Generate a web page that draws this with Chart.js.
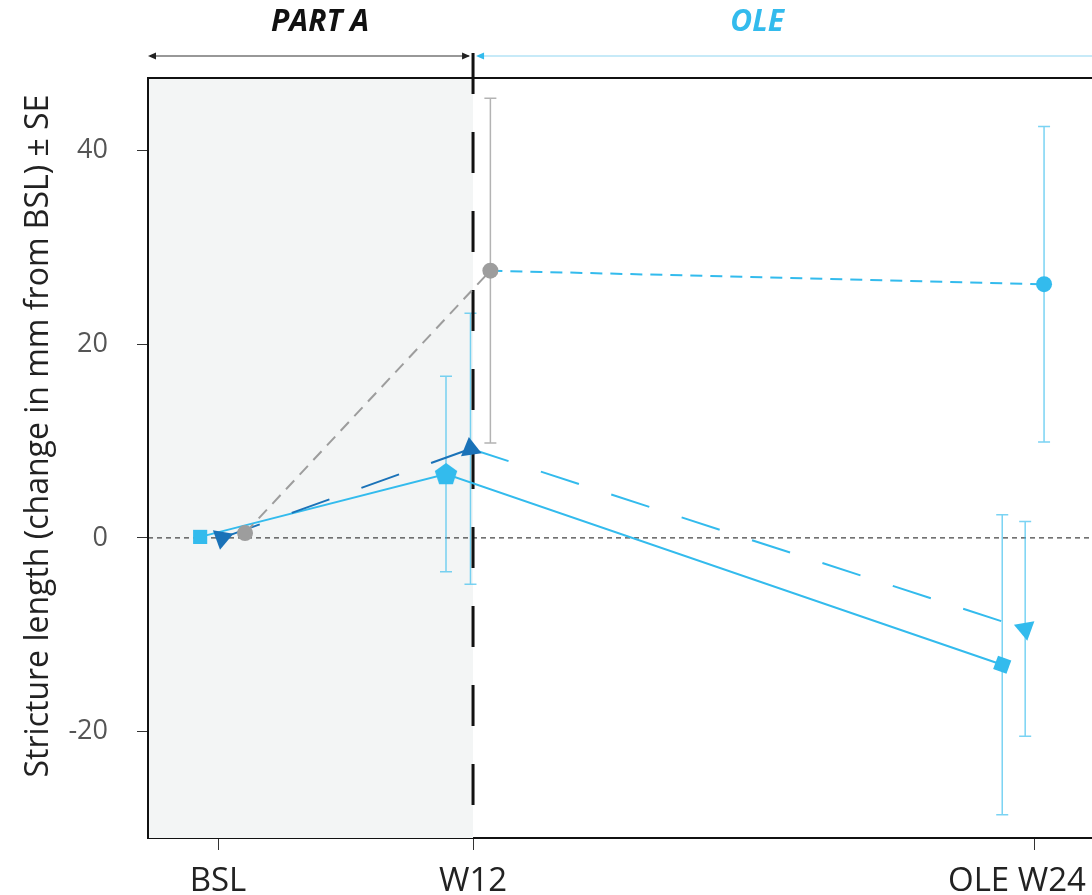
<!DOCTYPE html>
<html>
<head>
<meta charset="utf-8">
<script src="https://cdn.jsdelivr.net/npm/chart.js@4/dist/chart.umd.min.js"></script>
<style>
    html, body { margin: 0; padding: 0; background: #fff; overflow: hidden; }
    #wrap { width: 1092px; height: 895px; position: relative; }
</style>
</head>
<body>
<div id="wrap"><canvas id="chart"></canvas></div>
<script>
// Visits on the x axis
const visitLabels = ['BSL', 'W12', 'OLE W24'];
const visitPos = [0, 1, 3.2];
const yTicks = [-20, 0, 20, 40];
const yTitle = 'Stricture length (change in mm from BSL) ± SE';

// Circle series (Part A grey, then OLE blue)
const circleX = [0.106, 1.068, 3.239];
const circleY = [0.5, 27.6, 26.2];
const circleSE = [null, 17.8, 16.3];

// Square / pentagon series (solid)
const squareX = [-0.07, 0.894, 3.075];
const squareY = [0.1, 6.6, -13.1];
const squareSE = [null, 10.1, 15.5];

// Triangle series (long dash)
const triX = [0.016, 0.99, 3.165];
const triY = [0, 9.2, -9.4];
const triSE = [null, 14.0, 11.1];

const FONT = '"Open Sans", "Noto Sans", sans-serif';
const BLUE = '#33bbed';
const BLUE_ERR = 'rgba(51, 187, 237, 0.65)';
const DARK = '#1a72b8';
const GRAY = '#9d9d9d';
const GRAY_ERR = '#b3b3b3';

function toPoints(xs, ys) {
    return xs.map((x, i) => ({ x: x, y: ys[i] }));
}

// Pentagon marker (Chart.js has no built-in one)
function pentagonImage(size, color) {
    const c = document.createElement('canvas');
    c.width = size;
    c.height = size;
    const g = c.getContext('2d');
    const r = size / 2;
    g.beginPath();
    for (let k = 0; k < 5; k++) {
        const a = -Math.PI / 2 + k * 2 * Math.PI / 5;
        g.lineTo(r + r * 0.98 * Math.cos(a), r + 0.06 * r + r * 0.98 * Math.sin(a));
    }
    g.closePath();
    g.fillStyle = color;
    g.fill();
    return c;
}

// Background shading of Part A, zero line, error bars, W12 divider
const backdrop = {
    id: 'backdrop',
    beforeDatasetsDraw(chart) {
        const { ctx, chartArea, scales } = chart;
        const xW12 = scales.x.getPixelForValue(visitPos[1]);
        ctx.save();
        ctx.fillStyle = '#f3f5f5';
        ctx.fillRect(chartArea.left, chartArea.top, xW12 - chartArea.left, chartArea.bottom - chartArea.top);

        const y0 = scales.y.getPixelForValue(0);
        ctx.strokeStyle = '#444';
        ctx.lineWidth = 1.2;
        ctx.setLineDash([5, 4]);
        ctx.beginPath();
        ctx.moveTo(chartArea.left, y0);
        ctx.lineTo(chartArea.right, y0);
        ctx.stroke();
        ctx.setLineDash([]);

        chart.data.datasets.forEach((ds, i) => {
            const meta = chart.getDatasetMeta(i);
            ds.se.forEach((se, j) => {
                if (se == null) return;
                const x = meta.data[j].x;
                const top = scales.y.getPixelForValue(ds.data[j].y + se);
                const bot = scales.y.getPixelForValue(ds.data[j].y - se);
                ctx.strokeStyle = ds.errColor[j];
                ctx.lineWidth = 1.5;
                ctx.beginPath();
                ctx.moveTo(x, top);
                ctx.lineTo(x, bot);
                ctx.moveTo(x - 6, top);
                ctx.lineTo(x + 6, top);
                ctx.moveTo(x - 6, bot);
                ctx.lineTo(x + 6, bot);
                ctx.stroke();
            });
        });

        ctx.strokeStyle = '#111';
        ctx.lineWidth = 3;
        ctx.setLineDash([41, 38]);
        ctx.beginPath();
        ctx.moveTo(xW12, 53);
        ctx.lineTo(xW12, chartArea.bottom);
        ctx.stroke();
        ctx.restore();
    },
    afterDraw(chart) {
        const { ctx, chartArea, scales } = chart;
        const xW12 = scales.x.getPixelForValue(visitPos[1]);
        ctx.save();
        // plot frame (right side is cropped)
        ctx.strokeStyle = '#111';
        ctx.lineWidth = 2;
        ctx.beginPath();
        ctx.moveTo(chartArea.right, chartArea.top);
        ctx.lineTo(chartArea.left, chartArea.top);
        ctx.lineTo(chartArea.left, chartArea.bottom);
        ctx.stroke();

        // period arrows
        const ya = 56;
        ctx.lineWidth = 1.2;
        ctx.strokeStyle = '#333';
        ctx.beginPath();
        ctx.moveTo(chartArea.left + 2, ya);
        ctx.lineTo(xW12 - 4, ya);
        ctx.stroke();
        ctx.fillStyle = '#222';
        ctx.beginPath();
        ctx.moveTo(chartArea.left, ya);
        ctx.lineTo(chartArea.left + 8, ya - 3.5);
        ctx.lineTo(chartArea.left + 8, ya + 3.5);
        ctx.closePath();
        ctx.fill();
        ctx.beginPath();
        ctx.moveTo(xW12 - 3, ya);
        ctx.lineTo(xW12 - 11, ya - 3.5);
        ctx.lineTo(xW12 - 11, ya + 3.5);
        ctx.closePath();
        ctx.fill();

        ctx.strokeStyle = '#8fd5f2';
        ctx.beginPath();
        ctx.moveTo(xW12 + 6, ya);
        ctx.lineTo(chart.width, ya);
        ctx.stroke();
        ctx.fillStyle = BLUE;
        ctx.beginPath();
        ctx.moveTo(xW12 + 3, ya);
        ctx.lineTo(xW12 + 11, ya - 3.5);
        ctx.lineTo(xW12 + 11, ya + 3.5);
        ctx.closePath();
        ctx.fill();

        ctx.font = 'italic bold 30px ' + FONT;
        ctx.textAlign = 'center';
        ctx.textBaseline = 'middle';
        ctx.fillStyle = '#111';
        ctx.fillText('PART A', scales.x.getPixelForValue(0.4), 22);
        ctx.fillStyle = BLUE;
        ctx.fillText('OLE', scales.x.getPixelForValue(2.114), 22);

        // y axis title, sits a little above the plot centre
        ctx.translate(39, 436);
        ctx.rotate(-Math.PI / 2);
        ctx.font = '32px ' + FONT;
        ctx.fillStyle = '#222';
        ctx.fillText(yTitle, 0, 0);
        ctx.restore();
    }
};

function initChart() {
    const ctx = document.getElementById('chart');
    const pentagon = pentagonImage(24, BLUE);

    new Chart(ctx, {
        type: 'line',
        data: {
            datasets: [
                {
                    data: toPoints(circleX, circleY),
                    se: circleSE,
                    errColor: [null, GRAY_ERR, BLUE_ERR],
                    borderWidth: 2,
                    borderDash: [12, 8],
                    segment: {
                        borderColor: c => c.p0DataIndex === 0 ? GRAY : BLUE
                    },
                    pointStyle: 'circle',
                    pointRadius: 8,
                    pointBorderWidth: 0,
                    pointBackgroundColor: [GRAY, GRAY, BLUE]
                },
                {
                    data: toPoints(triX, triY),
                    se: triSE,
                    errColor: [null, BLUE_ERR, BLUE_ERR],
                    borderWidth: 2,
                    borderDash: [40, 34],
                    segment: {
                        borderColor: c => c.p0DataIndex === 0 ? DARK : BLUE
                    },
                    pointStyle: 'triangle',
                    pointRadius: 12,
                    pointRotation: [190, -8, 170],
                    pointBorderWidth: 0,
                    pointBackgroundColor: [DARK, DARK, BLUE]
                },
                {
                    data: toPoints(squareX, squareY),
                    se: squareSE,
                    errColor: [null, BLUE_ERR, BLUE_ERR],
                    borderColor: BLUE,
                    borderWidth: 2,
                    pointStyle: ['rect', pentagon, 'rect'],
                    pointRadius: 10,
                    pointRotation: [0, 0, 20],
                    pointBorderWidth: 0,
                    pointBackgroundColor: BLUE
                }
            ]
        },
        options: {
            responsive: true,
            maintainAspectRatio: false,
            animation: false,
            events: [],
            layout: { autoPadding: false, padding: { top: 78, left: 0, right: 0, bottom: 0 } },
            plugins: {
                legend: { display: false },
                tooltip: { enabled: false }
            },
            scales: {
                x: {
                    type: 'linear',
                    min: -0.2745,
                    max: 3.427,
                    afterBuildTicks: s => { s.ticks = visitPos.map(v => ({ value: v })); },
                    afterFit: s => { s.height = 57; s.paddingLeft = 0; s.paddingRight = 0; },
                    ticks: {
                        // trailing spaces keep the last label inside the canvas
                        callback: (v, i) => i === visitLabels.length - 1 ? visitLabels[i] + '\u00a0\u00a0\u00a0\u00a0' : visitLabels[i],
                        font: { family: FONT, size: 33 },
                        color: '#222',
                        padding: 12,
                        maxRotation: 0,
                        autoSkip: false
                    },
                    grid: {
                        drawOnChartArea: false,
                        tickLength: 12,
                        color: '#333',
                        lineWidth: 1
                    },
                    border: { display: true, color: '#111', width: 2 }
                },
                y: {
                    min: -31,
                    max: 47.5,
                    afterBuildTicks: s => { s.ticks = yTicks.map(v => ({ value: v })); },
                    afterFit: s => { s.width = 148; },
                    ticks: {
                        font: { family: FONT, size: 27 },
                        color: '#555',
                        padding: 29
                    },
                    grid: {
                        drawOnChartArea: false,
                        tickLength: 11,
                        color: '#333',
                        lineWidth: 1
                    },
                    border: { display: true, color: '#111', width: 2 }
                }
            }
        },
        plugins: [backdrop]
    });
}

document.addEventListener('DOMContentLoaded', initChart);
</script>
</body>
</html>
